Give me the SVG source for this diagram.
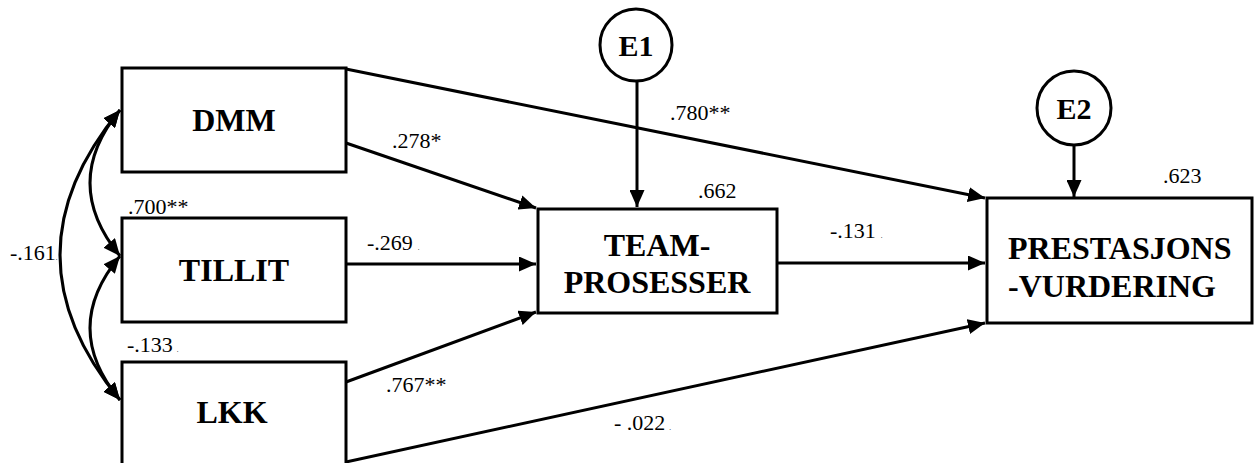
<svg xmlns="http://www.w3.org/2000/svg" width="1254" height="463" viewBox="0 0 1254 463">
<defs>
<style>
.box{fill:#fff;stroke:#000;stroke-width:3}
.circ{fill:#fff;stroke:#000;stroke-width:3}
.lbl{font-family:"Liberation Serif","Times New Roman",serif;font-weight:bold;font-size:32px;fill:#000}
.elbl{font-family:"Liberation Serif","Times New Roman",serif;font-weight:bold;font-size:30px;fill:#000}
.num{font-family:"Liberation Serif","Times New Roman",serif;font-size:22px;fill:#000}
.dot{font-size:7px}
.con{fill:none;stroke:#000;stroke-width:3}
</style>
<marker id="ah" markerUnits="userSpaceOnUse" markerWidth="17" markerHeight="15" refX="17" refY="7.5" orient="auto-start-reverse" viewBox="0 0 17 15">
<path d="M0,0 L17,7.5 L0,15 z" fill="#000"/>
</marker>
</defs>
<rect width="1254" height="463" fill="#fff"/>

<g id="connectors">
<path class="con" d="M120,110 Q60,183 120,256" marker-start="url(#ah)" marker-end="url(#ah)"/>
<path class="con" d="M120,256 Q60,328 120,400" marker-start="url(#ah)" marker-end="url(#ah)"/>
<path class="con" d="M120,110 Q0,255 120,400" marker-start="url(#ah)" marker-end="url(#ah)"/>
<line class="con" x1="346" y1="143" x2="536" y2="208" marker-end="url(#ah)"/>
<line class="con" x1="346" y1="264" x2="536" y2="264" marker-end="url(#ah)"/>
<line class="con" x1="346" y1="382" x2="536" y2="312" marker-end="url(#ah)"/>
<line class="con" x1="346" y1="69" x2="985" y2="198" marker-end="url(#ah)"/>
<line class="con" x1="777" y1="263" x2="985" y2="263" marker-end="url(#ah)"/>
<line class="con" x1="346" y1="462" x2="985" y2="323" marker-end="url(#ah)"/>
<line class="con" x1="637" y1="81" x2="637" y2="207" marker-end="url(#ah)"/>
<line class="con" x1="1074" y1="145" x2="1074" y2="197" marker-end="url(#ah)"/>
</g>

<g id="DMM">
<rect class="box" x="122" y="68" width="224" height="104"/>
<text class="lbl" x="234" y="131" text-anchor="middle">DMM</text>
</g>
<g id="TILLIT">
<rect class="box" x="122" y="218" width="224" height="104"/>
<text class="lbl" x="234" y="281" text-anchor="middle">TILLIT</text>
</g>
<g id="LKK">
<rect class="box" x="122" y="362" width="224" height="120"/>
<text class="lbl" x="232" y="423" text-anchor="middle">LKK</text>
</g>
<g id="TEAM">
<rect class="box" x="538" y="209" width="239" height="104"/>
<text class="lbl" x="657" y="256" text-anchor="middle">TEAM-</text>
<text class="lbl" x="657" y="293" text-anchor="middle">PROSESSER</text>
</g>
<g id="PRESTASJONS">
<rect class="box" x="987" y="198" width="265" height="125"/>
<text class="lbl" x="1008" y="259">PRESTASJONS</text>
<text class="lbl" x="1008" y="297">-VURDERING</text>
</g>
<g id="E1">
<circle class="circ" cx="636" cy="45" r="36"/>
<text class="elbl" x="636" y="56" text-anchor="middle">E1</text>
</g>
<g id="E2">
<circle class="circ" cx="1074" cy="108" r="37"/>
<text class="elbl" x="1074" y="119" text-anchor="middle">E2</text>
</g>

<g id="labels">
<text class="num" x="128" y="214">.700**</text>
<text class="num" x="10" y="260">-.161<tspan class="dot">.</tspan></text>
<text class="num" x="127" y="352">-.133<tspan class="dot" dx="4">.</tspan></text>
<text class="num" x="367" y="250">-.269<tspan class="dot" dx="5">.</tspan></text>
<text class="num" x="392" y="148">.278*</text>
<text class="num" x="670" y="120">.780**</text>
<text class="num" x="698" y="198">.662</text>
<text class="num" x="1163" y="183">.623</text>
<text class="num" x="830" y="238">-.131<tspan class="dot" dx="5">.</tspan></text>
<text class="num" x="386" y="392">.767**</text>
<text class="num" x="614" y="430">- .022<tspan class="dot" dx="4">.</tspan></text>
</g>
</svg>
